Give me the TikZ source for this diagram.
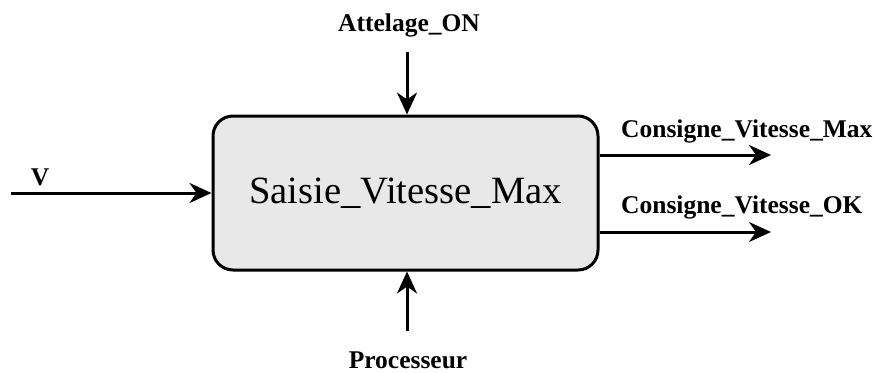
\documentclass[tikz,border=0pt]{standalone}
\usepackage{fontspec}
\setmainfont{Liberation Serif}
\usetikzlibrary{arrows.meta}
\definecolor{boxfill}{HTML}{E8E8E8}
\begin{document}
\begin{tikzpicture}[x=1pt,y=-1pt,
  blk/.style={draw=black, line width=3pt, rounded corners=20pt, fill=boxfill,
    minimum width=385pt, minimum height=154pt, inner sep=0pt,
    font=\fontsize{38.6}{44}\selectfont},
  lbl/.style={inner sep=0pt, font=\fontsize{25.5}{30}\selectfont\bfseries},
  arr/.style={line width=3pt, -{Stealth[length=22pt,width=20pt,inset=7pt]}}]
\useasboundingbox (0,0) rectangle (874,372);
\node[blk] (box) at (405.5,193) {Saisie\_Vitesse\_Max};
\coordinate (vin) at (11,193);
\coordinate (atop) at (407,52);
\coordinate (pbot) at (407,331);
\coordinate (o1) at (771,155);
\coordinate (o2) at (771,232);
\draw[arr] (vin) -- (box.west);
\draw[arr] (atop) -- (atop |- box.north);
\draw[arr] (pbot) -- (pbot |- box.south);
\draw[arr] (o1 -| box.east) -- (o1);
\draw[arr] (o2 -| box.east) -- (o2);
\node[lbl, anchor=base] (lv) at (40,185) {V};
\node[lbl, anchor=base] (la) at (409,31) {Attelage\_ON};
\node[lbl, anchor=base] (lp) at (408,368) {Processeur};
\node[lbl, anchor=base west] (lo1) at (621,137) {Consigne\_Vitesse\_Max};
\node[lbl, anchor=base west] (lo2) at (621,213) {Consigne\_Vitesse\_OK};
\end{tikzpicture}
\end{document}
